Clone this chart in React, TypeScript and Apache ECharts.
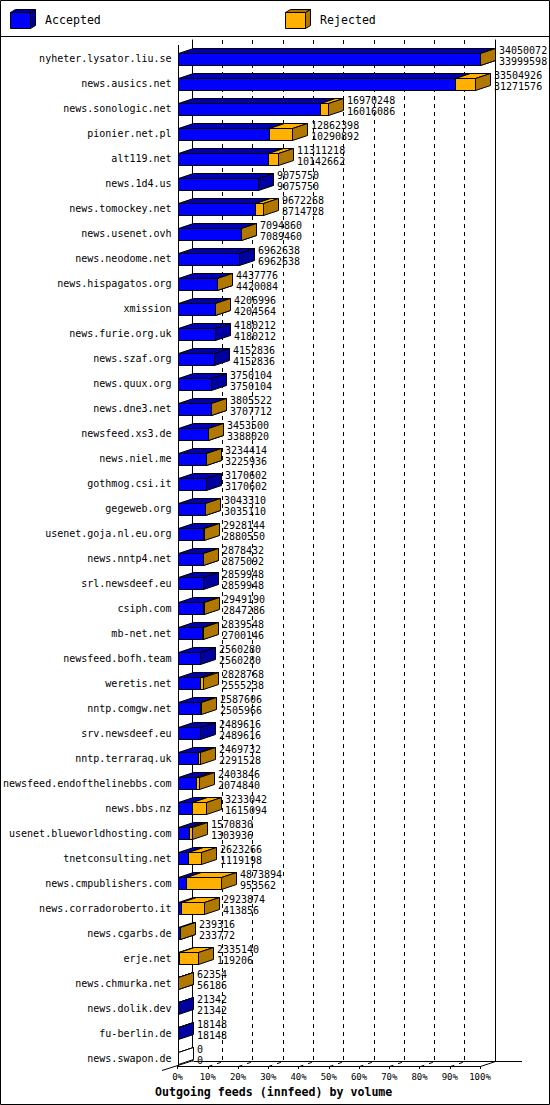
import React, { useEffect, useRef } from "react";
import * as echarts from "echarts";

const categories = [
  "nyheter.lysator.liu.se",
  "news.ausics.net",
  "news.sonologic.net",
  "pionier.net.pl",
  "alt119.net",
  "news.1d4.us",
  "news.tomockey.net",
  "news.usenet.ovh",
  "news.neodome.net",
  "news.hispagatos.org",
  "xmission",
  "news.furie.org.uk",
  "news.szaf.org",
  "news.quux.org",
  "news.dne3.net",
  "newsfeed.xs3.de",
  "news.niel.me",
  "gothmog.csi.it",
  "gegeweb.org",
  "usenet.goja.nl.eu.org",
  "news.nntp4.net",
  "srl.newsdeef.eu",
  "csiph.com",
  "mb-net.net",
  "newsfeed.bofh.team",
  "weretis.net",
  "nntp.comgw.net",
  "srv.newsdeef.eu",
  "nntp.terraraq.uk",
  "newsfeed.endofthelinebbs.com",
  "news.bbs.nz",
  "usenet.blueworldhosting.com",
  "tnetconsulting.net",
  "news.cmpublishers.com",
  "news.corradoroberto.it",
  "news.cgarbs.de",
  "erje.net",
  "news.chmurka.net",
  "news.dolik.dev",
  "fu-berlin.de",
  "news.swapon.de",
];

const totalOffered = [
  34050072, 33504926, 16970248, 12862398, 11311218, 9075750, 9672268, 7094860,
  6962638, 4437776, 4206996, 4180212, 4152836, 3750104, 3805522, 3453500,
  3234414, 3170602, 3043310, 2928144, 2878432, 2859948, 2949190, 2839548,
  2560280, 2828768, 2587606, 2489616, 2469732, 2403846, 3233042, 1570830,
  2623266, 4873894, 2923874, 239316, 2335140, 62354, 21342, 18148, 0,
];

const acceptedVolume = [
  33999598, 31271576, 16016086, 10290892, 10142662, 9075750, 8714728, 7089460,
  6962638, 4420084, 4204564, 4180212, 4152836, 3750104, 3707712, 3388020,
  3225936, 3170602, 3035110, 2880550, 2875092, 2859948, 2847286, 2700146,
  2560280, 2555238, 2505966, 2489616, 2291528, 2074840, 1615094, 1303936,
  1119198, 953562, 413856, 233772, 119206, 56186, 21342, 18148, 0,
];

const legendNames = ["Accepted", "Rejected"];
const chartTitle = "Outgoing feeds (innfeed) by volume";

const MONO = '"DejaVu Sans Mono", "Liberation Mono", monospace';
const COLORS = {
  acc: { front: "#0000ff", top: "#0000b0", side: "#0000a0" },
  rej: { front: "#ffb000", top: "#ffb000", side: "#b07800" },
};
const W = 550;
const H = 1105;
const DX = 15;
const DY = 5;
const HALF = 6;
const GRID_LEFT = 177;
const GRID_RIGHT = 70;
const GRID_TOP = 46.5;
const GRID_BOTTOM = 34.5;
const FRONT_Y = 1066;
const BACK_TOP = 40;
const BACK_Y = 1061;

const maxTotal = Math.max(...totalOffered);
const pct = (v: number) => (v / maxTotal) * 100;
const snap = (v: number) => Math.round(v) + 0.5;

function box(xl: number, xr: number, yc: number, c: any, emptyEnd: boolean) {
  const y0 = Math.round(yc) - HALF + 0.5;
  const y1 = Math.round(yc) + HALF + 0.5;
  const st = { stroke: "#000", lineWidth: 1 };
  return [
    {
      type: "polygon",
      shape: { points: [[xl, y0], [xr, y0], [xr, y1], [xl, y1]] },
      style: { ...st, fill: c.front },
    },
    {
      type: "polygon",
      shape: { points: [[xl, y0], [xl + DX, y0 - DY], [xr + DX, y0 - DY], [xr, y0]] },
      style: { ...st, fill: c.top },
    },
    {
      type: "polygon",
      shape: { points: [[xr, y0], [xr + DX, y0 - DY], [xr + DX, y1 - DY], [xr, y1]] },
      style: { ...st, fill: emptyEnd ? "#ffffff" : c.side },
    },
  ];
}

function cube(x: number, c: any) {
  const st = { stroke: "#000", lineWidth: 1 };
  return [
    { type: "rect", shape: { x: x + 0.5, y: 12.5, width: 20, height: 16 }, style: { ...st, fill: c.front } },
    {
      type: "polygon",
      shape: { points: [[x + 0.5, 12.5], [x + 5.5, 9.5], [x + 25.5, 9.5], [x + 20.5, 12.5]] },
      style: { ...st, fill: c.side },
    },
    {
      type: "polygon",
      shape: { points: [[x + 20.5, 12.5], [x + 25.5, 9.5], [x + 25.5, 25.5], [x + 20.5, 28.5]] },
      style: { ...st, fill: c.side },
    },
  ];
}

export default function App() {
  const ref = useRef<HTMLDivElement>(null);
  useEffect(() => {
    document.body.style.margin = "0";
    if (!ref.current) return;
    const chart = echarts.init(ref.current, undefined, { renderer: "svg" });

    const accData = categories.map((_, i) => [pct(acceptedVolume[i]), i, acceptedVolume[i], totalOffered[i]]);
    const rejData = categories.map((_, i) => [
      pct(totalOffered[i]),
      i,
      pct(acceptedVolume[i]),
      totalOffered[i],
      acceptedVolume[i],
    ]);

    const option: any = {
      animation: false,
      backgroundColor: "#ffffff",
      textStyle: { fontFamily: MONO },
      title: {
        text: chartTitle,
        left: 155,
        top: 1086,
        padding: 0,
        textStyle: { fontFamily: MONO, fontSize: 11.6, fontWeight: "bold", color: "#000", lineHeight: 12 },
      },
      grid: [
        { left: GRID_LEFT, right: GRID_RIGHT, top: GRID_TOP, bottom: GRID_BOTTOM },
        { left: GRID_LEFT + DX, right: GRID_RIGHT - DX, top: BACK_TOP, bottom: H - BACK_Y },
      ],
      xAxis: [
        {
          gridIndex: 0,
          type: "value",
          min: 0,
          max: 100,
          interval: 10,
          offset: -(H - GRID_BOTTOM - FRONT_Y),
          axisLine: { show: true, lineStyle: { color: "#000", width: 1 } },
          axisTick: { show: true, length: 3, lineStyle: { color: "#000", width: 1 } },
          axisLabel: {
            formatter: "{value}%",
            fontFamily: MONO,
            fontSize: 9,
            color: "#000",
            margin: 6,
          },
          splitLine: { show: false },
        },
        {
          gridIndex: 1,
          type: "value",
          min: 0,
          max: 100,
          interval: 10,
          z: 0,
          axisLine: { show: false },
          axisTick: { show: false },
          axisLabel: { show: false },
          splitLine: { show: true, lineStyle: { color: "#000", width: 1, type: [4, 4] } },
        },
      ],
      yAxis: [
        {
          gridIndex: 0,
          type: "category",
          data: categories,
          inverse: true,
          axisLine: { show: false },
          axisTick: { show: false },
          axisLabel: { fontFamily: MONO, fontSize: 10, color: "#000", margin: 6 },
          splitLine: { show: false },
        },
        {
          gridIndex: 1,
          type: "value",
          position: "left",
          axisLine: { show: true, onZero: false, lineStyle: { color: "#000", width: 1 } },
          axisTick: { show: false },
          axisLabel: { show: false },
          splitLine: { show: false },
        },
        {
          gridIndex: 1,
          type: "value",
          position: "right",
          axisLine: { show: true, onZero: false, lineStyle: { color: "#000", width: 1 } },
          axisTick: { show: false },
          axisLabel: { show: false },
          splitLine: { show: false },
        },
      ],
      series: [
        {
          name: legendNames[0],
          type: "custom",
          xAxisIndex: 0,
          yAxisIndex: 0,
          encode: { x: 0, y: 1 },
          data: accData,
          z: 5,
          renderItem: (params: any, api: any) => {
            const acc = api.value(0);
            const i = api.value(1);
            const raw = api.value(2);
            const tot = api.value(3);
            const p0 = api.coord([0, i]);
            const pa = api.coord([acc, i]);
            return {
              type: "group",
              children: box(snap(p0[0]), snap(pa[0]), p0[1], COLORS.acc, raw === 0 && tot === 0),
            };
          },
        },
        {
          name: legendNames[1],
          type: "custom",
          xAxisIndex: 0,
          yAxisIndex: 0,
          encode: { x: 0, y: 1 },
          data: rejData,
          z: 6,
          renderItem: (params: any, api: any) => {
            const tot = api.value(0);
            const i = api.value(1);
            const acc = api.value(2);
            const rawTot = api.value(3);
            const rawAcc = api.value(4);
            const pa = api.coord([acc, i]);
            const pt = api.coord([tot, i]);
            const yc = Math.round(pt[1]);
            const children: any[] = rawTot > rawAcc ? box(snap(pa[0]), snap(pt[0]), pt[1], COLORS.rej, false) : [];
            const tx = Math.round(pt[0]) + DX + 4;
            children.push({
              type: "text",
              style: {
                text: String(rawTot),
                x: tx,
                y: yc - 8.5,
                fill: "#000",
                font: `10px ${MONO}`,
                align: "left",
                verticalAlign: "middle",
              },
            });
            children.push({
              type: "text",
              style: {
                text: String(rawAcc),
                x: tx,
                y: yc + 2.5,
                fill: "#000",
                font: `10px ${MONO}`,
                align: "left",
                verticalAlign: "middle",
              },
            });
            return { type: "group", children };
          },
        },
      ],
    };
    chart.setOption(option);

    const fx = (p: number) => chart.convertToPixel({ xAxisIndex: 0 } as any, p) as unknown as number;
    const lineSt = { stroke: "#000", lineWidth: 1 };
    const x0 = Math.round(fx(0)) + 0.5;
    const x100 = Math.round(fx(100)) + 0.5;
    const fy = FRONT_Y + 0.5;
    const by = BACK_Y + 0.5;
    const g: any[] = [
      { type: "rect", shape: { x: 0.5, y: 0.5, width: W - 1, height: H - 1 }, style: { fill: "none", ...lineSt }, z: 20 },
      { type: "line", shape: { x1: 0, y1: 36.5, x2: W, y2: 36.5 }, style: lineSt, z: 20 },
      ...cube(10, COLORS.acc).map((e) => ({ ...e, z: 20 })),
      ...cube(285, COLORS.rej).map((e) => ({ ...e, z: 20 })),
      {
        type: "text",
        style: { text: legendNames[0], x: 45, y: 20, fill: "#000", font: `11.6px ${MONO}`, verticalAlign: "middle" },
        z: 20,
      },
      {
        type: "text",
        style: { text: legendNames[1], x: 320, y: 20, fill: "#000", font: `11.6px ${MONO}`, verticalAlign: "middle" },
        z: 20,
      },
      { type: "line", shape: { x1: x0, y1: 45, x2: x0, y2: fy }, style: lineSt, z: 1 },
      { type: "line", shape: { x1: x0 + DX, y1: by, x2: 522, y2: by }, style: lineSt, z: 1 },
      { type: "line", shape: { x1: 162, y1: fy + 4, x2: x0 + DX, y2: by - 1 }, style: lineSt, z: 1 },
      { type: "line", shape: { x1: x100, y1: fy, x2: x100 + DX, y2: by }, style: lineSt, z: 1 },
    ];
    for (let k = 1; k < 10; k++) {
      const xk = Math.round(fx(k * 10)) + 0.5;
      g.push({
        type: "line",
        shape: { x1: xk, y1: fy, x2: xk + DX, y2: by },
        style: { ...lineSt, lineDash: [4, 5] },
        z: 1,
      });
    }
    chart.setOption({ graphic: g });

    return () => chart.dispose();
  }, []);
  return (
    <div
      ref={ref}
      style={{ position: "absolute", left: 0, top: 0, width: W, height: H, background: "#fff" }}
    />
  );
}
